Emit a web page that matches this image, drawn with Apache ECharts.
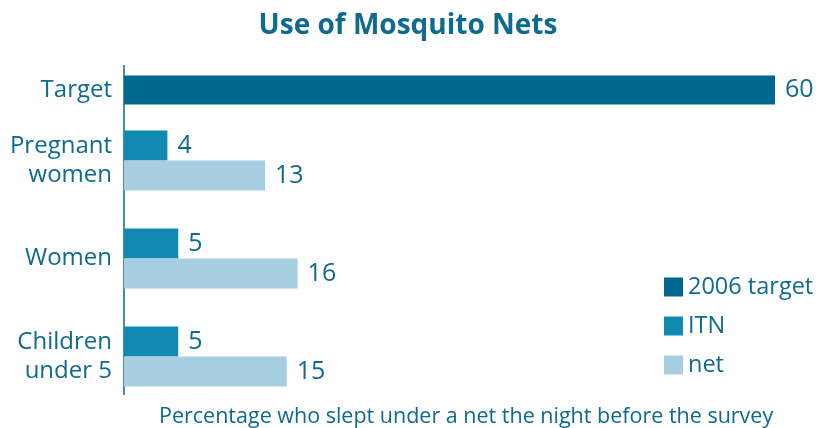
<!DOCTYPE html>
<html>
<head>
<meta charset="utf-8">
<script src="https://cdn.jsdelivr.net/npm/echarts@6/dist/echarts.min.js"></script>
<style>
  html, body { margin: 0; padding: 0; background: #fff; }
  #chart { width: 816px; height: 428px; }
</style>
</head>
<body>
<div id="chart"></div>
<script>
// Data
const targetCategories = ['Target'];
const groupCategories = ['Pregnant\nwomen', 'Women', 'Children\nunder 5'];
const targetValues = [60];
const itnValues = [4, 5, 5];
const netValues = [13, 16, 15];
const seriesNames = ['2006 target', 'ITN', 'net'];

const textColor = '#0e6a8e';
const colors = ['#006890', '#118ab1', '#a7cde0'];
const fontFamily = '"Open Sans", "Noto Sans", sans-serif';

const labelStyle = {
  show: true,
  position: 'right',
  distance: 10,
  color: textColor,
  fontSize: 25,
  fontFamily: fontFamily,
};

const chart = echarts.init(document.getElementById('chart'));

chart.setOption({
  animation: false,
  title: [
    {
      text: 'Use of Mosquito Nets',
      left: 'center',
      top: 7,
      textStyle: { color: textColor, fontSize: 28, fontWeight: 'bold', fontFamily: fontFamily },
    },
    {
      text: 'Percentage who slept under a net the night before the survey',
      left: 154,
      top: 401,
      textStyle: { color: textColor, fontSize: 21.5, fontWeight: 'normal', fontFamily: fontFamily },
    },
  ],
  legend: {
    orient: 'vertical',
    left: 659,
    top: 270,
    icon: 'rect',
    itemWidth: 19,
    itemHeight: 19,
    itemGap: 15,
    data: seriesNames,
    textStyle: { color: textColor, fontSize: 23.5, fontFamily: fontFamily },
  },
  grid: [
    { left: 124, width: 651, top: 65, height: 50 },
    { left: 124, width: 651, top: 111.5, height: 294 },
  ],
  xAxis: [0, 1].map((i) => ({
    type: 'value',
    gridIndex: i,
    min: 0,
    max: 60,
    show: false,
  })),
  yAxis: [
    {
      type: 'category',
      gridIndex: 0,
      inverse: true,
      data: targetCategories,
      axisLine: { show: false },
      axisTick: { show: false },
      axisLabel: { color: textColor, fontSize: 24, fontFamily: fontFamily, margin: 12 },
    },
    {
      type: 'category',
      gridIndex: 1,
      inverse: true,
      data: groupCategories,
      axisLine: { show: false },
      axisTick: { show: false },
      axisLabel: { color: textColor, fontSize: 24, lineHeight: 29, fontFamily: fontFamily, margin: 12 },
    },
  ],
  graphic: [
    {
      type: 'line',
      shape: { x1: 124, y1: 65, x2: 124, y2: 395 },
      style: { stroke: '#0e6a8e', lineWidth: 1.5 },
    },
  ],
  series: [
    {
      name: seriesNames[0],
      type: 'bar',
      xAxisIndex: 0,
      yAxisIndex: 0,
      barWidth: 29,
      data: targetValues,
      itemStyle: { color: colors[0] },
      label: labelStyle,
    },
    {
      name: seriesNames[1],
      type: 'bar',
      xAxisIndex: 1,
      yAxisIndex: 1,
      barWidth: 30,
      barGap: '0%',
      data: itnValues,
      itemStyle: { color: colors[1] },
      label: labelStyle,
    },
    {
      name: seriesNames[2],
      type: 'bar',
      xAxisIndex: 1,
      yAxisIndex: 1,
      barWidth: 30,
      barGap: '0%',
      data: netValues,
      itemStyle: { color: colors[2] },
      label: labelStyle,
    },
  ],
});
</script>
</body>
</html>
